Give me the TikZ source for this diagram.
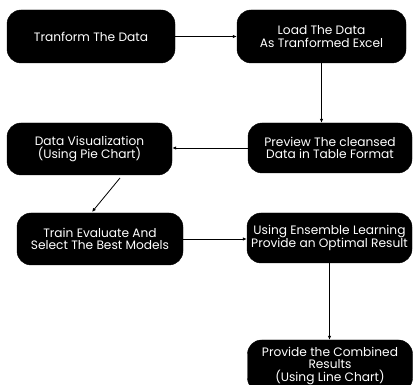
\documentclass[tikz,border=0pt]{standalone}
\usepackage{fontspec}
\setmainfont{Poppins}
\usetikzlibrary{arrows.meta}
\begin{document}
\begin{tikzpicture}[x=1pt,y=-1pt,
  box/.style={draw=black,fill=black,rounded corners=14pt,text=white,align=center,
    inner sep=0pt,font=\fontsize{12.2}{12.8}\selectfont},
  arr/.style={draw=black,line width=0.8pt,-{Latex[length=4pt,width=3.5pt]}}]
\useasboundingbox (0,0) rectangle (413,385);
\clip (0,0) rectangle (413,385);
\node[box,minimum width=168pt,minimum height=53pt] (b1) at (91,36.5) {Tranform The Data};
\node[box,minimum width=169pt,minimum height=53pt] (b2) at (321.5,36.5) {Load The Data\\As Tranformed Excel};
\node[box,minimum width=164pt,minimum height=50pt] (b4) at (330,148) {Preview The cleansed\\Data in Table Format};
\node[box,minimum width=165pt,minimum height=52pt] (b3) at (89.5,149) {Data Visualization\\(Using Pie Chart)};
\node[box,minimum width=166pt,minimum height=52pt] (b5) at (100,239) {Train Evaluate And\\Select The Best Models};
\node[box,minimum width=165pt,minimum height=50pt] (b6) at (329.5,238) {Using Ensemble Learning\\Provide an Optimal Result};
\node[box,minimum width=165pt,minimum height=52pt] (b7) at (330,366) {Provide the Combined\\Results\\(Using Line Chart)};
\coordinate (d1) at (120,178);
\coordinate (d2) at (92,212);
\draw[arr] (b1.east) -- (b2.west |- b1.east);
\draw[arr] (b2.south) -- (b2.south |- b4.north);
\draw[arr] (b4.west) -- (b3.east |- b4.west);
\draw[arr] (d1) -- (d2);
\draw[arr] (b5.east) -- (b6.west |- b5.east);
\draw[arr] (b6.south) -- (b6.south |- b7.north);
\end{tikzpicture}
\end{document}
